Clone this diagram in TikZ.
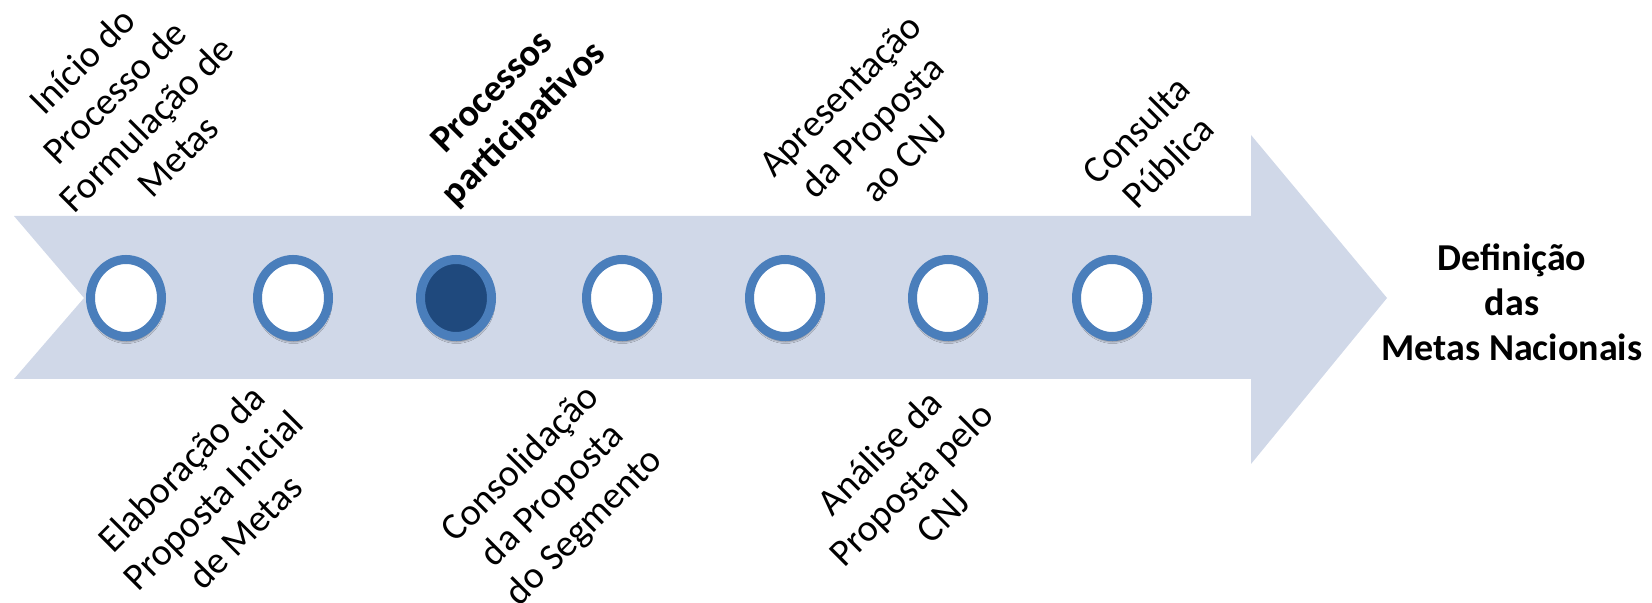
\documentclass[tikz,border=0pt]{standalone}
\usepackage{fontspec}
\setmainfont{Carlito}
\usetikzlibrary{shapes.geometric,shadows.blur}
\definecolor{bandfill}{RGB}{208,216,232}
\definecolor{ringblue}{RGB}{74,126,187}
\definecolor{stagedark}{RGB}{31,73,125}
\tikzset{
  stage/.style={ellipse, draw=ringblue, line width=4.5pt, fill=white,
    minimum width=35.5pt, minimum height=38.5pt, inner sep=0pt,
    blur shadow={shadow xshift=0.3pt, shadow yshift=-2pt,
      shadow blur radius=1.5pt, shadow opacity=85}},
  lbl/.style={rotate=45, align=center, font=\fontsize{19}{22.5}\selectfont}
}

\begin{document}
\begin{tikzpicture}[x=0.5pt, y=0.5pt]
  \useasboundingbox (0,-305) rectangle (1652,298);
  % band
  \fill[bandfill] (14,82) -- (1251,82) -- (1251,163) -- (1387,0)
    -- (1251,-166) -- (1251,-81) -- (14,-81) -- (84,0) -- cycle;
  % stages
  \node[stage] (s1) at (126,0) {};
  \node[stage] (s2) at (293,0) {};
  \node[stage, fill=stagedark] (s3) at (456,0) {};
  \node[stage] (s4) at (622,0) {};
  \node[stage] (s5) at (785,0) {};
  \node[stage] (s6) at (948,0) {};
  \node[stage] (s7) at (1112,0) {};
  % labels above
  \node[lbl] (t1) at (130,190) {Início do\\Processo de\\Formulação de\\Metas};
  \node[lbl, font=\fontsize{19}{22.5}\selectfont\bfseries] (t3) at (509,189) {Processos\\participativos};
  \node[lbl] (t5) at (872,171) {Apresentação\\da Proposta\\ao CNJ};
  \node[lbl] (t7) at (1152,152) {Consulta\\Pública};
  % labels below
  \node[lbl] (t2) at (213,-202) {Elaboração da\\Proposta Inicial\\de Metas};
  \node[lbl] (t4) at (553,-198) {Consolidação\\da Proposta\\do Segmento};
  \node[lbl] (t6) at (911,-186) {Análise da\\Proposta pelo\\CNJ};
  % goal
  \node[align=center, font=\fontsize{19}{22.5}\selectfont\bfseries] (goal) at (1512,-4)
    {Definição\\das\\Metas Nacionais};
\end{tikzpicture}
\end{document}
